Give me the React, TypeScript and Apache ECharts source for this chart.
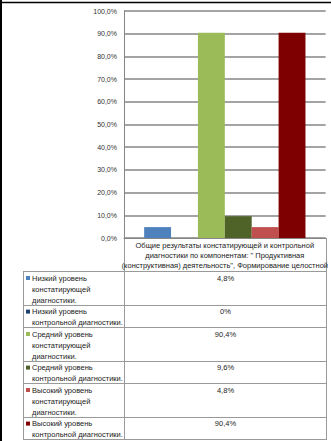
import React, { useEffect, useRef } from "react";
import * as echarts from "echarts";

const CATEGORIES = [
  'Общие результаты констатирующей и контрольной\nдиагностики по компонентам: " Продуктивная\n(конструктивная) деятельность", Формирование целостной',
];

const SERIES_NAMES = [
  "Низкий уровень\nконстатирующей\nдиагностики.",
  "Низкий уровень\nконтрольной диагностики.",
  "Средний уровень\nконстатирующей\nдиагностики.",
  "Средний уровень\nконтрольной диагностики.",
  "Высокий уровень\nконстатирующей\nдиагностики.",
  "Высокий уровень\nконтрольной диагностики.",
];

const SERIES_VALUES = [4.8, 0, 90.4, 9.6, 4.8, 90.4];

const SERIES_COLORS = ["#4f81bd", "#1f3f6e", "#9bbb59", "#4f6228", "#c0504d", "#7f0000"];

const Y_MIN = 0;
const Y_MAX = 100;
const Y_STEP = 10;

const FONT = "'Liberation Sans', Arial, sans-serif";

function fmtPct(v: number, zeroShort: boolean): string {
  if (zeroShort && v === 0) return "0%";
  return v.toFixed(1).replace(".", ",") + "%";
}

export default function App() {
  const ref = useRef<HTMLDivElement>(null);

  useEffect(() => {
    if (!ref.current) return;
    const chart = echarts.init(ref.current, null, { renderer: "svg" });

    const W = 331;
    const plotLeft = 124;
    const plotRight = 327;
    const axisY = 238;
    const tableTop = 271;
    const legendLeft = 23;
    const lineH = 11.2;

    const graphics: any[] = [];
    graphics.push({ type: "rect", shape: { x: 0, y: 0, width: 2, height: 441 }, style: { fill: "#000" } });
    graphics.push({ type: "rect", shape: { x: 0, y: 1.8, width: W, height: 1.4 }, style: { fill: "#000" } });

    const lineStyle = { stroke: "#9a9a9a", lineWidth: 1 };
    graphics.push({ type: "line", shape: { x1: plotLeft + 0.5, y1: axisY, x2: plotLeft + 0.5, y2: 439 }, style: lineStyle });
    graphics.push({ type: "line", shape: { x1: plotRight - 0.5, y1: axisY, x2: plotRight - 0.5, y2: 439 }, style: lineStyle });
    graphics.push({ type: "line", shape: { x1: legendLeft + 0.5, y1: tableTop, x2: legendLeft + 0.5, y2: 439 }, style: lineStyle });

    let y = tableTop;
    graphics.push({ type: "line", shape: { x1: legendLeft, y1: y + 0.5, x2: plotRight, y2: y + 0.5 }, style: lineStyle });
    SERIES_NAMES.forEach((name, i) => {
      const nLines = name.split("\n").length;
      const h = nLines * lineH;
      graphics.push({
        type: "rect",
        shape: { x: 26, y: y + 5, width: 4, height: 4 },
        style: { fill: SERIES_COLORS[i] },
      });
      graphics.push({
        type: "text",
        x: 32,
        y: y + 1.5,
        style: {
          text: name,
          fill: "#222",
          font: `7.5px ${FONT}`,
          lineHeight: lineH,
          textAlign: "left",
          textVerticalAlign: "top",
        },
      });
      graphics.push({
        type: "text",
        x: (plotLeft + plotRight) / 2,
        y: y + 1.5,
        style: {
          text: fmtPct(SERIES_VALUES[i], true),
          fill: "#222",
          font: `7.5px ${FONT}`,
          lineHeight: lineH,
          textAlign: "center",
          textVerticalAlign: "top",
        },
      });
      y += h;
      graphics.push({
        type: "line",
        shape: { x1: legendLeft, y1: Math.round(y) + 0.5, x2: plotRight, y2: Math.round(y) + 0.5 },
        style: lineStyle,
      });
    });

    chart.setOption({
      animation: false,
      grid: { left: plotLeft, right: W - plotRight, top: 11, bottom: 441 - axisY },
      xAxis: {
        type: "category",
        data: CATEGORIES,
        axisLine: { show: true, lineStyle: { color: "#868686", width: 1 } },
        axisTick: { show: false },
        axisLabel: {
          fontSize: 7.5,
          fontFamily: FONT,
          color: "#222",
          lineHeight: 10.3,
          margin: 2,
          interval: 0,
        },
      },
      yAxis: {
        type: "value",
        min: Y_MIN,
        max: Y_MAX,
        interval: Y_STEP,
        axisLine: { show: true, lineStyle: { color: "#868686", width: 1 } },
        axisTick: { show: false },
        splitLine: { lineStyle: { color: "#868686", width: 1.5 } },
        axisLabel: {
          fontSize: 7,
          fontFamily: FONT,
          color: "#333",
          margin: 7,
          formatter: (v: number) => fmtPct(v, false),
        },
      },
      series: SERIES_NAMES.map((name, i) => ({
        type: "bar",
        name: name.replace(/\n/g, " "),
        data: [SERIES_VALUES[i]],
        barGap: "0%",
        barCategoryGap: "20%",
        itemStyle: { color: SERIES_COLORS[i] },
      })),
      graphic: graphics,
    });

    return () => chart.dispose();
  }, []);

  return (
    <div
      ref={ref}
      style={{ position: "absolute", left: 0, top: 0, width: 331, height: 441, background: "#fff" }}
    />
  );
}
